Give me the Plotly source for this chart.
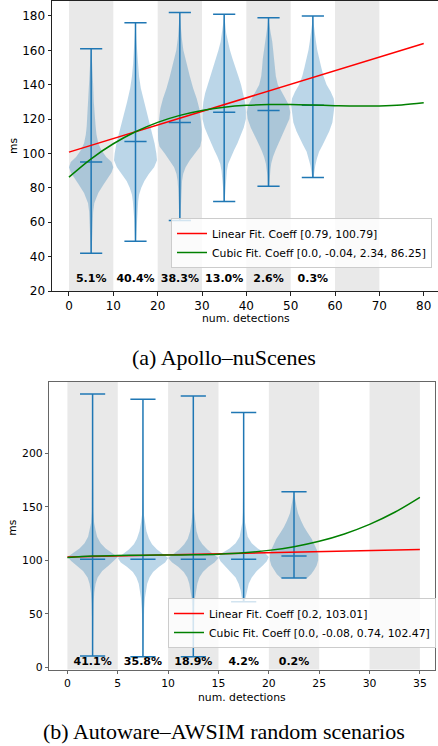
import plotly.graph_objects as go

W, H = 438, 746

# ---------------- (a) Apollo–nuScenes ----------------
a_centers = [5, 15, 25, 35, 45, 55]
a_min = [42, 49, 61, 72, 81, 86]
a_max = [161, 176, 182, 181, 179, 180]
a_med = [95, 107, 118, 124, 125, 128]
a_share = ["5.1%", "40.4%", "38.3%", "13.0%", "2.6%", "0.3%"]
a_bands = [0, 20, 40, 60]
a_band_w = 10

a_prof_y = [
    [42, 50, 60, 66, 71, 77, 82, 86, 89, 92, 95, 98, 102, 106, 111, 116, 122, 130, 140, 150, 156, 161],
    [49, 55, 62, 67, 72, 76, 80, 84, 88, 92, 96, 100, 106, 112, 118, 124, 130, 138, 145, 152, 160, 166, 172, 176],
    [61, 70, 78, 84, 88, 92, 96, 100, 104, 108, 114, 120, 126, 132, 138, 145, 152, 160, 167, 174, 179, 182],
    [72, 80, 86, 90, 94, 98, 102, 106, 110, 115, 120, 125, 130, 135, 140, 145, 150, 155, 160, 165, 170, 176, 181],
    [81, 87, 91, 94, 98, 102, 106, 110, 115, 120, 124, 128, 132, 136, 140, 145, 150, 155, 160, 165, 170, 175, 179],
    [86, 89, 93, 97, 101, 105, 109, 113, 118, 123, 128, 132, 136, 140, 145, 150, 155, 160, 165, 170, 175, 180],
]
a_prof_hw = [
    [0.1, 0.2, 0.3, 0.45, 0.7, 1.6, 2.8, 3.9, 4.6, 5.0, 4.6, 3.4, 2.3, 1.6, 1.2, 1.0, 0.8, 0.6, 0.45, 0.3, 0.15, 0.05],
    [0.1, 0.2, 0.3, 0.4, 0.6, 0.8, 1.3, 2.0, 3.0, 4.2, 4.85, 4.7, 4.3, 3.7, 3.1, 2.5, 1.9, 1.2, 0.8, 0.55, 0.35, 0.2, 0.1, 0.05],
    [0.1, 0.2, 0.35, 0.5, 0.75, 1.3, 2.25, 3.4, 4.6, 4.9, 4.95, 4.7, 4.4, 3.8, 3.0, 2.25, 1.5, 0.8, 0.45, 0.2, 0.1, 0.05],
    [0.1, 0.25, 0.4, 0.6, 0.9, 1.5, 2.25, 3.0, 3.6, 4.4, 4.9, 4.9, 4.7, 4.3, 3.8, 3.2, 2.5, 1.9, 1.3, 0.8, 0.45, 0.2, 0.05],
    [0.15, 0.25, 0.45, 0.6, 1.0, 1.6, 2.3, 3.0, 4.0, 4.7, 4.9, 4.6, 3.8, 2.9, 2.1, 1.65, 1.45, 1.3, 1.1, 0.85, 0.5, 0.2, 0.05],
    [0.15, 0.3, 0.55, 0.9, 1.4, 2.2, 3.0, 3.7, 4.4, 4.7, 4.9, 4.7, 4.0, 3.1, 2.4, 1.9, 1.4, 1.0, 0.7, 0.4, 0.2, 0.05],
]
a_lin_x = [0, 80]
a_lin_y = [100.79, 163.99]
a_cub_x = [0, 5, 10, 15, 20, 25, 30, 35, 40, 45, 50, 55, 60, 65, 70, 75, 80]
a_cub_y = [86.25, 96.92, 105.67, 112.67, 118.11, 122.18, 125.06, 126.94, 128.01,
           128.44, 128.44, 128.17, 127.83, 127.6, 127.67, 128.22, 129.45]
a_lin_label = "Linear Fit. Coeff [0.79, 100.79]"
a_cub_label = "Cubic Fit. Coeff [0.0, -0.04, 2.34, 86.25]"
a_xticks = [0, 10, 20, 30, 40, 50, 60, 70, 80]
a_yticks = [20, 40, 60, 80, 100, 120, 140, 160, 180]

# ---------------- (b) Autoware–AWSIM random scenarios ----------------
b_centers = [2.5, 7.5, 12.5, 17.5, 22.5]
b_min = [10.6, 9.9, 9.9, 61.3, 83.5]
b_max = [255.4, 250.5, 253.6, 238, 164.1]
b_med = [101, 101, 101, 101, 104]
b_share = ["41.1%", "35.8%", "18.9%", "4.2%", "0.2%"]
b_bands = [0, 10, 20, 30]
b_band_w = 5

b_prof_y = [
    [10.6, 40, 60, 70, 78, 84, 90, 95, 99, 103, 107, 111, 116, 122, 128, 135, 145, 170, 220, 255.4],
    [9.9, 40, 55, 65, 72, 78, 84, 89, 94, 98, 102, 106, 110, 115, 120, 127, 135, 142, 160, 200, 250.5],
    [9.9, 40, 55, 65, 72, 78, 84, 89, 94, 98, 102, 106, 110, 115, 120, 127, 135, 145, 170, 220, 253.6],
    [61.3, 66, 72, 78, 84, 90, 95, 99, 103, 107, 111, 116, 122, 128, 135, 145, 170, 210, 238],
    [83.5, 87, 91, 95, 100, 105, 110, 115, 120, 125, 131, 137, 144, 150, 156, 160, 164.1],
]
b_prof_hw = [
    [0.02, 0.04, 0.1, 0.17, 0.3, 0.5, 0.95, 1.6, 2.1, 2.5, 1.9, 1.3, 0.8, 0.45, 0.3, 0.15, 0.08, 0.04, 0.02, 0.01],
    [0.02, 0.05, 0.12, 0.2, 0.3, 0.42, 0.65, 1.0, 1.6, 2.2, 2.5, 2.0, 1.4, 0.9, 0.6, 0.35, 0.2, 0.1, 0.05, 0.02, 0.01],
    [0.02, 0.05, 0.1, 0.17, 0.28, 0.4, 0.6, 0.95, 1.5, 2.1, 2.5, 2.0, 1.4, 0.9, 0.55, 0.32, 0.18, 0.08, 0.04, 0.02, 0.01],
    [0.1, 0.2, 0.3, 0.5, 0.8, 1.3, 1.9, 2.3, 2.5, 2.1, 1.4, 0.8, 0.4, 0.25, 0.14, 0.08, 0.04, 0.02, 0.01],
    [1.3, 1.7, 2.0, 2.25, 2.4, 2.4, 2.25, 2.0, 1.75, 1.4, 1.0, 0.7, 0.4, 0.25, 0.15, 0.08, 0.03],
]
b_lin_x = [0, 35]
b_lin_y = [103.01, 110.01]
b_cub_x = [0, 2.5, 5, 7.5, 10, 12.5, 15, 17.5, 20, 22.5, 25, 27.5, 30, 32.5, 35]
b_cub_y = [102.47, 103.87, 104.54, 104.78, 104.87, 105.07, 105.68, 106.97, 109.23,
           112.73, 117.77, 124.61, 133.54, 144.84, 158.78]
b_lin_label = "Linear Fit. Coeff [0.2, 103.01]"
b_cub_label = "Cubic Fit. Coeff [0.0, -0.08, 0.74, 102.47]"
b_xticks = [0, 5, 10, 15, 20, 25, 30, 35]
b_yticks = [0, 50, 100, 150, 200]

captions = ["(a) Apollo–nuScenes", "(b) Autoware–AWSIM random scenarios"]

# ---------------- styling ----------------
BLUE = "#1f77b4"
VFILL = "rgba(31,119,180,0.3)"
BAND = "#e9e9e9"
FONT = "DejaVu Sans"


def px_x(p):
    return p / W


def px_y(p):
    return 1 - p / H


fig = go.Figure()
shapes = []
annotations = []


def add_panel(xa, ya, legend, centers, vmin, vmax, vmed, share, share_y,
              prof_y, prof_hw, cap_half, bands, band_w,
              lin_x, lin_y, cub_x, cub_y, lin_label, cub_label):
    for b0 in bands:
        shapes.append(dict(type="rect", xref=xa, yref=f"{ya} domain", x0=b0, x1=b0 + band_w,
                           y0=0, y1=1, fillcolor=BAND, line_width=0, layer="below"))
    for c, py, ph in zip(centers, prof_y, prof_hw):
        xs = [c + h for h in ph] + [c - h for h in reversed(ph)]
        ys = list(py) + list(reversed(py))
        fig.add_trace(go.Scatter(x=xs, y=ys, fill="toself", fillcolor=VFILL, mode="lines",
                                 line=dict(width=0), showlegend=False, hoverinfo="skip",
                                 xaxis=xa, yaxis=ya))
    lx, ly = [], []
    for c, lo, hi, md in zip(centers, vmin, vmax, vmed):
        lx += [c, c, None]
        ly += [lo, hi, None]
        for v in (lo, hi, md):
            lx += [c - cap_half, c + cap_half, None]
            ly += [v, v, None]
    fig.add_trace(go.Scatter(x=lx, y=ly, mode="lines", line=dict(color=BLUE, width=1.5),
                             showlegend=False, hoverinfo="skip", xaxis=xa, yaxis=ya))
    fig.add_trace(go.Scatter(x=lin_x, y=lin_y, mode="lines", line=dict(color="red", width=1.5),
                             name=lin_label, legend=legend, xaxis=xa, yaxis=ya))
    fig.add_trace(go.Scatter(x=cub_x, y=cub_y, mode="lines", line=dict(color="green", width=1.5, shape="spline"),
                             name=cub_label, legend=legend, xaxis=xa, yaxis=ya))
    fig.add_trace(go.Scatter(x=centers, y=[share_y] * len(centers), mode="text", text=share,
                             textfont=dict(family=FONT, size=11, color="black", weight="bold"),
                             showlegend=False, hoverinfo="skip", xaxis=xa, yaxis=ya))


add_panel("x", "y", "legend", a_centers, a_min, a_max, a_med, a_share, 27,
          a_prof_y, a_prof_hw, 2.5, a_bands, a_band_w,
          a_lin_x, a_lin_y, a_cub_x, a_cub_y, a_lin_label, a_cub_label)
add_panel("x2", "y2", "legend2", b_centers, b_min, b_max, b_med, b_share, 5,
          b_prof_y, b_prof_hw, 1.25, b_bands, b_band_w,
          b_lin_x, b_lin_y, b_cub_x, b_cub_y, b_lin_label, b_cub_label)

axis_common = dict(showgrid=False, zeroline=False, showline=True, ticks="outside",
                   ticklen=3.5, tickwidth=1, automargin=False)


def label(text, x, y, size, family=FONT, angle=0):
    return dict(text=text, x=px_x(x), y=px_y(y), xref="paper", yref="paper",
                xanchor="center", yanchor="middle", textangle=angle, showarrow=False,
                font=dict(family=family, size=size, color="black"))


annotations += [
    label("num. detections", 246.5, 318, 10.8),
    label("ms", 13, 146, 10.8, angle=-90),
    label("num. detections", 242.3, 697.5, 10.8),
    label("ms", 11.7, 527, 10.8, angle=-90),
    label(captions[0], 224, 357, 22, family="Liberation Serif"),
    label(captions[1], 224.4, 731, 22, family="Liberation Serif"),
]

legend_common = dict(bgcolor="rgba(255,255,255,0.8)", bordercolor="#cccccc", borderwidth=1,
                     font=dict(family=FONT, size=10.8, color="black"),
                     xanchor="left", yanchor="top", tracegroupgap=0)

fig.update_layout(
    width=W, height=H, margin=dict(l=0, r=0, t=0, b=0, autoexpand=False),
    paper_bgcolor="white", plot_bgcolor="white",
    font=dict(family=FONT, color="black"),
    xaxis=dict(domain=[px_x(52), 1.0], range=[-3.83, 83.22], tickvals=a_xticks,
               linecolor="#222", tickcolor="#222", mirror=True,
               tickfont=dict(family=FONT, size=12, color="black"), anchor="y", **axis_common),
    yaxis=dict(domain=[px_y(291), px_y(0.5)], range=[20, 189.0], tickvals=a_yticks,
               linecolor="#222", tickcolor="#222", mirror=False,
               tickfont=dict(family=FONT, size=12, color="black"), anchor="x", **axis_common),
    xaxis2=dict(domain=[px_x(49.3), px_x(435)], range=[-1.8, 36.5], tickvals=b_xticks,
                linecolor="#666", tickcolor="#666", mirror=True,
                tickfont=dict(family=FONT, size=10.8, color="black"), anchor="y2", **axis_common),
    yaxis2=dict(domain=[px_y(669.5), px_y(382)], range=[-2.1, 266.6], tickvals=b_yticks,
                linecolor="#666", tickcolor="#666", mirror=True,
                tickfont=dict(family=FONT, size=10.8, color="black"), anchor="x2", **axis_common),
    legend=dict(x=px_x(171), y=px_y(218), **legend_common),
    legend2=dict(x=px_x(168), y=px_y(598), **legend_common),
    shapes=shapes,
    annotations=annotations,
)

fig.write_html("out.html", config={"displayModeBar": False},
               post_script="document.body.style.margin='0';document.body.style.overflow='hidden';")
